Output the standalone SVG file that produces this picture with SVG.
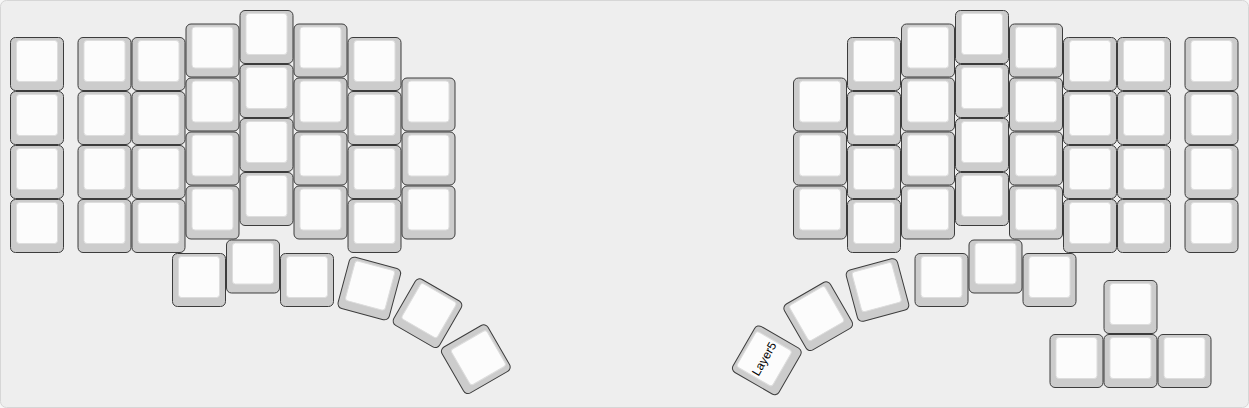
<svg xmlns="http://www.w3.org/2000/svg" xmlns:xlink="http://www.w3.org/1999/xlink" width="1249" height="408" viewBox="0 0 1249 408">
<style>
.bg{fill:#eeeeee;stroke:#d6d6d6;stroke-width:1}
.outer{fill:#cccccc;stroke:#3c3c3c;stroke-width:1}
.top{fill:#fcfcfc;stroke:#dddddd;stroke-width:1}
.lbl{font-family:"Liberation Sans",Arial,sans-serif;font-size:12px;fill:#000000;text-anchor:middle}
</style>
<defs>
<g id="cap">
<rect class="outer" x="0.5" y="0.5" width="53" height="53" rx="5" ry="5"/>
<rect class="top" x="6.5" y="3.5" width="41" height="41" rx="3" ry="3"/>
</g>
</defs>
<rect x="0" y="0" width="1249" height="408" fill="#f7f7f7"/>
<rect class="bg" x="0.5" y="0.5" width="1248" height="407" rx="6" ry="6"/>
<g id="left-hand">
<g id="L-c0-r0"><use xlink:href="#cap" href="#cap" transform="translate(10,37)"/></g>
<g id="L-c0-r1"><use xlink:href="#cap" href="#cap" transform="translate(10,91)"/></g>
<g id="L-c0-r2"><use xlink:href="#cap" href="#cap" transform="translate(10,145)"/></g>
<g id="L-c0-r3"><use xlink:href="#cap" href="#cap" transform="translate(10,199)"/></g>
<g id="L-c1-r0"><use xlink:href="#cap" href="#cap" transform="translate(77.5,37)"/></g>
<g id="L-c1-r1"><use xlink:href="#cap" href="#cap" transform="translate(77.5,91)"/></g>
<g id="L-c1-r2"><use xlink:href="#cap" href="#cap" transform="translate(77.5,145)"/></g>
<g id="L-c1-r3"><use xlink:href="#cap" href="#cap" transform="translate(77.5,199)"/></g>
<g id="L-c2-r0"><use xlink:href="#cap" href="#cap" transform="translate(131.5,37)"/></g>
<g id="L-c2-r1"><use xlink:href="#cap" href="#cap" transform="translate(131.5,91)"/></g>
<g id="L-c2-r2"><use xlink:href="#cap" href="#cap" transform="translate(131.5,145)"/></g>
<g id="L-c2-r3"><use xlink:href="#cap" href="#cap" transform="translate(131.5,199)"/></g>
<g id="L-c3-r0"><use xlink:href="#cap" href="#cap" transform="translate(185.5,23.5)"/></g>
<g id="L-c3-r1"><use xlink:href="#cap" href="#cap" transform="translate(185.5,77.5)"/></g>
<g id="L-c3-r2"><use xlink:href="#cap" href="#cap" transform="translate(185.5,131.5)"/></g>
<g id="L-c3-r3"><use xlink:href="#cap" href="#cap" transform="translate(185.5,185.5)"/></g>
<g id="L-c4-r0"><use xlink:href="#cap" href="#cap" transform="translate(239.5,10)"/></g>
<g id="L-c4-r1"><use xlink:href="#cap" href="#cap" transform="translate(239.5,64)"/></g>
<g id="L-c4-r2"><use xlink:href="#cap" href="#cap" transform="translate(239.5,118)"/></g>
<g id="L-c4-r3"><use xlink:href="#cap" href="#cap" transform="translate(239.5,172)"/></g>
<g id="L-c5-r0"><use xlink:href="#cap" href="#cap" transform="translate(293.5,23.5)"/></g>
<g id="L-c5-r1"><use xlink:href="#cap" href="#cap" transform="translate(293.5,77.5)"/></g>
<g id="L-c5-r2"><use xlink:href="#cap" href="#cap" transform="translate(293.5,131.5)"/></g>
<g id="L-c5-r3"><use xlink:href="#cap" href="#cap" transform="translate(293.5,185.5)"/></g>
<g id="L-c6-r0"><use xlink:href="#cap" href="#cap" transform="translate(347.5,37)"/></g>
<g id="L-c6-r1"><use xlink:href="#cap" href="#cap" transform="translate(347.5,91)"/></g>
<g id="L-c6-r2"><use xlink:href="#cap" href="#cap" transform="translate(347.5,145)"/></g>
<g id="L-c6-r3"><use xlink:href="#cap" href="#cap" transform="translate(347.5,199)"/></g>
<g id="L-c7-r1"><use xlink:href="#cap" href="#cap" transform="translate(401.5,77.5)"/></g>
<g id="L-c7-r2"><use xlink:href="#cap" href="#cap" transform="translate(401.5,131.5)"/></g>
<g id="L-c7-r3"><use xlink:href="#cap" href="#cap" transform="translate(401.5,185.5)"/></g>
<g id="L-t1"><use xlink:href="#cap" href="#cap" transform="translate(172,253)"/></g>
<g id="L-t2"><use xlink:href="#cap" href="#cap" transform="translate(226,239.5)"/></g>
<g id="L-t3"><use xlink:href="#cap" href="#cap" transform="translate(280,253)"/></g>
<g id="L-t4"><use xlink:href="#cap" href="#cap" transform="translate(369.3,288.5) rotate(15) translate(-27,-27)"/></g>
<g id="L-t5"><use xlink:href="#cap" href="#cap" transform="translate(427.5,313.2) rotate(30) translate(-27,-27)"/></g>
<g id="L-t6"><use xlink:href="#cap" href="#cap" transform="translate(475.8,359.2) rotate(60) translate(-27,-27)"/></g>
</g>
<g id="right-hand">
<g id="R-c0-r1"><use xlink:href="#cap" href="#cap" transform="translate(793,77.5)"/></g>
<g id="R-c0-r2"><use xlink:href="#cap" href="#cap" transform="translate(793,131.5)"/></g>
<g id="R-c0-r3"><use xlink:href="#cap" href="#cap" transform="translate(793,185.5)"/></g>
<g id="R-c1-r0"><use xlink:href="#cap" href="#cap" transform="translate(847,37)"/></g>
<g id="R-c1-r1"><use xlink:href="#cap" href="#cap" transform="translate(847,91)"/></g>
<g id="R-c1-r2"><use xlink:href="#cap" href="#cap" transform="translate(847,145)"/></g>
<g id="R-c1-r3"><use xlink:href="#cap" href="#cap" transform="translate(847,199)"/></g>
<g id="R-c2-r0"><use xlink:href="#cap" href="#cap" transform="translate(901,23.5)"/></g>
<g id="R-c2-r1"><use xlink:href="#cap" href="#cap" transform="translate(901,77.5)"/></g>
<g id="R-c2-r2"><use xlink:href="#cap" href="#cap" transform="translate(901,131.5)"/></g>
<g id="R-c2-r3"><use xlink:href="#cap" href="#cap" transform="translate(901,185.5)"/></g>
<g id="R-c3-r0"><use xlink:href="#cap" href="#cap" transform="translate(955,10)"/></g>
<g id="R-c3-r1"><use xlink:href="#cap" href="#cap" transform="translate(955,64)"/></g>
<g id="R-c3-r2"><use xlink:href="#cap" href="#cap" transform="translate(955,118)"/></g>
<g id="R-c3-r3"><use xlink:href="#cap" href="#cap" transform="translate(955,172)"/></g>
<g id="R-c4-r0"><use xlink:href="#cap" href="#cap" transform="translate(1009,23.5)"/></g>
<g id="R-c4-r1"><use xlink:href="#cap" href="#cap" transform="translate(1009,77.5)"/></g>
<g id="R-c4-r2"><use xlink:href="#cap" href="#cap" transform="translate(1009,131.5)"/></g>
<g id="R-c4-r3"><use xlink:href="#cap" href="#cap" transform="translate(1009,185.5)"/></g>
<g id="R-c5-r0"><use xlink:href="#cap" href="#cap" transform="translate(1063,37)"/></g>
<g id="R-c5-r1"><use xlink:href="#cap" href="#cap" transform="translate(1063,91)"/></g>
<g id="R-c5-r2"><use xlink:href="#cap" href="#cap" transform="translate(1063,145)"/></g>
<g id="R-c5-r3"><use xlink:href="#cap" href="#cap" transform="translate(1063,199)"/></g>
<g id="R-c6-r0"><use xlink:href="#cap" href="#cap" transform="translate(1117,37)"/></g>
<g id="R-c6-r1"><use xlink:href="#cap" href="#cap" transform="translate(1117,91)"/></g>
<g id="R-c6-r2"><use xlink:href="#cap" href="#cap" transform="translate(1117,145)"/></g>
<g id="R-c6-r3"><use xlink:href="#cap" href="#cap" transform="translate(1117,199)"/></g>
<g id="R-c7-r0"><use xlink:href="#cap" href="#cap" transform="translate(1184.5,37)"/></g>
<g id="R-c7-r1"><use xlink:href="#cap" href="#cap" transform="translate(1184.5,91)"/></g>
<g id="R-c7-r2"><use xlink:href="#cap" href="#cap" transform="translate(1184.5,145)"/></g>
<g id="R-c7-r3"><use xlink:href="#cap" href="#cap" transform="translate(1184.5,199)"/></g>
<g id="R-t1"><use xlink:href="#cap" href="#cap" transform="translate(914.5,253)"/></g>
<g id="R-t2"><use xlink:href="#cap" href="#cap" transform="translate(968.5,239.5)"/></g>
<g id="R-t3"><use xlink:href="#cap" href="#cap" transform="translate(1022.5,253)"/></g>
<g id="R-t4"><use xlink:href="#cap" href="#cap" transform="translate(877.5,290) rotate(-15) translate(-27,-27)"/></g>
<g id="R-t5"><use xlink:href="#cap" href="#cap" transform="translate(818.2,316.2) rotate(-30) translate(-27,-27)"/></g>
<g id="R-t6" transform="translate(766.8,360.3) rotate(-60) translate(-27,-27)"><use xlink:href="#cap" href="#cap"/><text class="lbl" x="27" y="28">Layer5</text></g>
<g id="R-arrow-up"><use xlink:href="#cap" href="#cap" transform="translate(1103.5,280)"/></g>
<g id="R-arrow-left"><use xlink:href="#cap" href="#cap" transform="translate(1049.5,334)"/></g>
<g id="R-arrow-down"><use xlink:href="#cap" href="#cap" transform="translate(1103.5,334)"/></g>
<g id="R-arrow-right"><use xlink:href="#cap" href="#cap" transform="translate(1157.5,334)"/></g>
</g>
</svg>
